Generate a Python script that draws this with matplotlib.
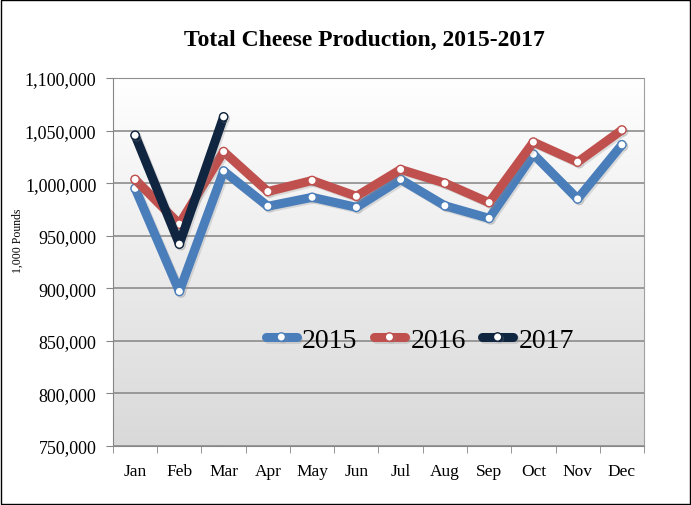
import matplotlib.pyplot as plt
import numpy as np
from matplotlib.patches import Rectangle
from matplotlib.ticker import FuncFormatter
import matplotlib.patheffects as pe

months = ['Jan', 'Feb', 'Mar', 'Apr', 'May', 'Jun', 'Jul', 'Aug', 'Sep', 'Oct', 'Nov', 'Dec']
prod2015 = [995000, 897000, 1011500, 978000, 986500, 977000, 1003500, 978500, 966500, 1027500, 985000, 1036500]
prod2016 = [1003500, 961000, 1030000, 992000, 1002500, 987500, 1013000, 1000000, 981500, 1039000, 1020000, 1050500]
prod2017 = [1045500, 942000, 1063000]

colors = {'2015': '#4a7ebb', '2016': '#c0504d', '2017': '#10253f'}

plt.rcParams['font.family'] = ['Liberation Serif', 'DejaVu Serif']

fig = plt.figure(figsize=(6.91, 5.06), dpi=100)
ax = fig.add_axes([0.1635, 0.1166, 0.7685, 0.7273])

# gradient background of plot area
grad = np.linspace(0, 1, 256).reshape(-1, 1)
ax.imshow(grad, cmap=plt.matplotlib.colors.LinearSegmentedColormap.from_list('g', ['#ffffff', '#d9d9d9']),
          extent=[0, 1, 0, 1], transform=ax.transAxes, aspect='auto', zorder=0, origin='upper')

ax.set_xlim(-0.5, 11.5)
ax.set_ylim(750000, 1100000)
ax.set_yticks(np.arange(750000, 1100001, 50000))
ax.yaxis.set_major_formatter(FuncFormatter(lambda v, p: '{:,.0f}'.format(v)))
ax.grid(axis='y', color='#8c8c8c', lw=1.2, zorder=1)
ax.set_axisbelow(False)

x = np.arange(len(months))
shadow = [pe.SimpleLineShadow(offset=(1.2, -1.2), shadow_color='#888888', alpha=0.25), pe.Normal()]

def drawSeries(vals, key):
    xs = x[:len(vals)]
    ax.plot(xs, vals, color=colors[key], lw=6.5, solid_capstyle='round', solid_joinstyle='round',
            marker='o', ms=6, mfc='white', mec=colors[key], mew=1, label=key, zorder=3,
            path_effects=shadow)

drawSeries(prod2015, '2015')
drawSeries(prod2016, '2016')
drawSeries(prod2017, '2017')

ax.set_xticks(x)
ax.set_xticklabels(months)
ax.set_xticks(np.arange(-0.5, 12, 1), minor=True)
ax.tick_params(axis='x', which='major', length=0, pad=12, labelsize=12.5)
ax.tick_params(axis='x', which='minor', length=5, color='#868686', direction='out')
ax.tick_params(axis='y', length=5, color='#868686', direction='out', labelsize=13, pad=7)
for s in ax.spines.values():
    s.set_color('#a0a0a0')
ax.spines['left'].set_color('#868686')
ax.spines['bottom'].set_color('#868686')

ax.set_ylabel('1,000 Pounds', fontsize=8.5)
ax.yaxis.set_label_coords(-0.168, 0.56)

leg = ax.legend(loc='center', bbox_to_anchor=(0.578, 0.288), ncol=3, frameon=False,
                fontsize=20, handlelength=1.1, columnspacing=0.6, handletextpad=0.2)

fig.text(0.528, 0.921, 'Total Cheese Production, 2015-2017', ha='center', va='center',
         fontsize=17, fontweight='bold')

fig.patches.append(Rectangle((0.001, 0.001), 0.998, 0.997, transform=fig.transFigure,
                             fill=False, ec='black', lw=1))

fig.savefig('out.png', dpi=100)
